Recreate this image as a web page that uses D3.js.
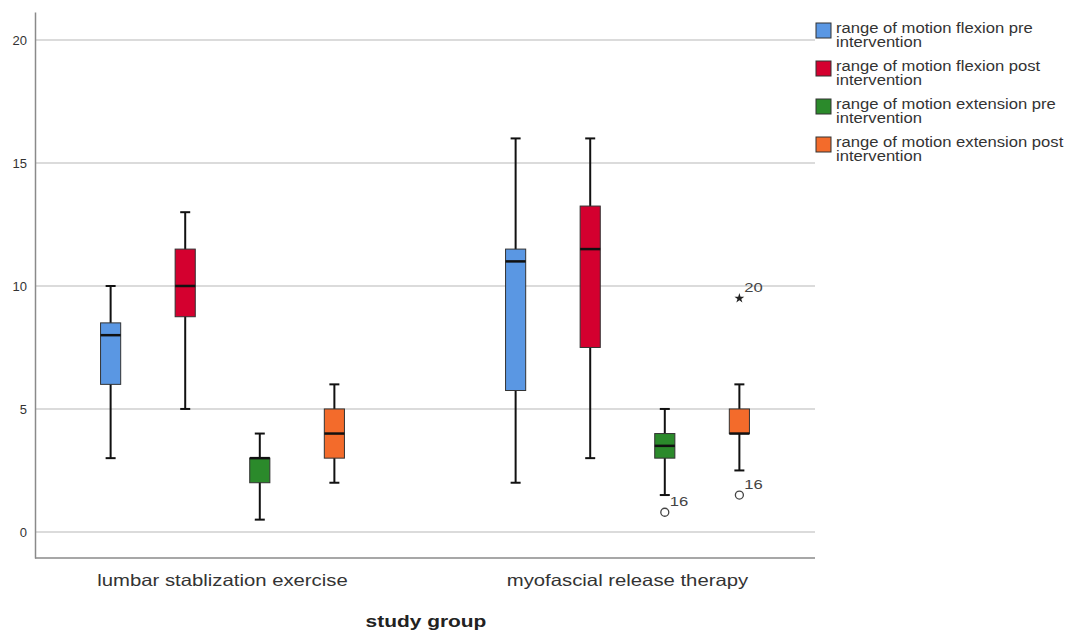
<!DOCTYPE html>
<html>
<head>
<meta charset="utf-8">
<script src="https://cdn.jsdelivr.net/npm/d3@7"></script>
<style>
  body { margin: 0; background: #fff; }
  text { font-family: "Liberation Sans", Arial, sans-serif; }
</style>
</head>
<body>
<div id="chart"></div>
<script>
// chart data
var groups = ["lumbar stablization exercise", "myofascial release therapy"];
var seriesNames = [
  "range of motion flexion pre intervention",
  "range of motion flexion post intervention",
  "range of motion extension pre intervention",
  "range of motion extension post intervention"
];
var seriesColors = ["#5a97e3", "#d4002f", "#2b8a2b", "#f36b2b"];
// [whisker low, Q1, median, Q3, whisker high] per group, per series
var flexionPre = [[3, 6, 8, 8.5, 10], [2, 5.75, 11, 11.5, 16]];
var flexionPost = [[5, 8.75, 10, 11.5, 13], [3, 7.5, 11.5, 13.25, 16]];
var extensionPre = [[0.5, 2, 3, 3, 4], [1.5, 3, 3.5, 4, 5]];
var extensionPost = [[2, 3, 4, 5, 6], [2.5, 4, 4, 5, 6]];
// outliers: group, series index, value, case label, type
var outliers = [
  { group: 1, series: 2, value: 0.8, label: "16", type: "circle" },
  { group: 1, series: 3, value: 1.5, label: "16", type: "circle" },
  { group: 1, series: 3, value: 9.5, label: "20", type: "star" }
];
var yTicks = [0, 5, 10, 15, 20];

var svgWidth = 1070;
var svgHeight = 631;
var margin = { top: 12, left: 35, right: 255, bottom: 73 };
var plotW = svgWidth - margin.left - margin.right; // 780
var plotH = svgHeight - margin.top - margin.bottom; // 546
var stretch = 1.23; // the original text is drawn a bit wide

var svg = d3.select("#chart").append("svg")
  .attr("width", svgWidth)
  .attr("height", svgHeight);

var g = svg.append("g")
  .attr("transform", `translate(${margin.left}, ${margin.top})`);

var y = d3.scaleLinear().domain([-1.06, 21.14]).range([plotH, 0]);

var x0 = d3.scaleBand().domain(groups).range([-15, 795]); // group bands
var x1 = d3.scaleBand().domain(d3.range(4)).range([0, x0.bandwidth()])
  .paddingInner(0.73).paddingOuter(1.08);

var allSeries = [flexionPre, flexionPost, extensionPre, extensionPost];

// gridlines
g.selectAll(".grid").data(yTicks).enter().append("line")
  .attr("x1", 0).attr("x2", plotW)
  .attr("y1", d => y(d)).attr("y2", d => y(d))
  .attr("stroke", "#cfcfcf").attr("stroke-width", 1.5);

// y axis
var yAxis = g.append("g").call(d3.axisLeft(y).tickValues(yTicks).tickSize(0).tickPadding(8));
yAxis.select(".domain").attr("stroke", "#8a8a8a").attr("stroke-width", 1.5);
yAxis.selectAll("text").attr("font-size", 13).attr("fill", "#333")
  .style("font-family", "Liberation Sans, Arial, sans-serif");

// x axis (bottom line + category labels)
g.append("line").attr("x1", 0).attr("x2", plotW).attr("y1", plotH).attr("y2", plotH)
  .attr("stroke", "#8a8a8a").attr("stroke-width", 1.5);
g.selectAll(".cat").data(groups).enter().append("text")
  .attr("class", "stretch")
  .attr("x", d => x0(d) + x0.bandwidth() / 2)
  .attr("y", plotH + 28)
  .attr("text-anchor", "middle")
  .attr("font-size", 16.5).attr("fill", "#333")
  .text(d => d);

svg.append("text")
  .attr("class", "stretch")
  .attr("x", 426).attr("y", 627)
  .attr("text-anchor", "middle")
  .attr("font-size", 17).attr("font-weight", "bold").attr("fill", "#222")
  .text("study group");

// boxes
var bw = x1.bandwidth();
groups.forEach(function(grp, gi) {
  allSeries.forEach(function(s, si) {
    var st = s[gi];
    var cx = x0(grp) + x1(si) + bw / 2;
    var box = g.append("g");
    box.append("line").attr("x1", cx).attr("x2", cx)
      .attr("y1", y(st[0])).attr("y2", y(st[4]))
      .attr("stroke", "#111").attr("stroke-width", 2);
    [st[0], st[4]].forEach(function(v) {
      box.append("line").attr("x1", cx - 5).attr("x2", cx + 5)
        .attr("y1", y(v)).attr("y2", y(v))
        .attr("stroke", "#111").attr("stroke-width", 2);
    });
    box.append("rect")
      .attr("x", cx - bw / 2).attr("width", bw)
      .attr("y", y(st[3])).attr("height", Math.max(1, y(st[1]) - y(st[3])))
      .attr("fill", seriesColors[si]).attr("stroke", "#333").attr("stroke-width", 1);
    box.append("line").attr("x1", cx - bw / 2).attr("x2", cx + bw / 2)
      .attr("y1", y(st[2])).attr("y2", y(st[2]))
      .attr("stroke", "#111").attr("stroke-width", 2.5);
  });
});

// outliers
outliers.forEach(function(o) {
  var cx = x0(groups[o.group]) + x1(o.series) + bw / 2;
  var cy = y(o.value);
  if (o.type === "circle") {
    g.append("circle").attr("cx", cx).attr("cy", cy).attr("r", 4)
      .attr("fill", "none").attr("stroke", "#444").attr("stroke-width", 1.3);
  } else {
    g.append("path").attr("d", d3.symbol(d3.symbolStar, 30)())
      .attr("transform", `translate(${cx}, ${cy})`).attr("fill", "#222");
  }
  g.append("text").attr("class", "stretch")
    .attr("x", cx + 5).attr("y", cy - 6)
    .attr("font-size", 13.5).attr("fill", "#444").text(o.label);
});

// legend
var legend = svg.append("g").attr("transform", "translate(816, 23)");
seriesNames.forEach(function(name, i) {
  var item = legend.append("g").attr("transform", `translate(0, ${i * 38})`);
  item.append("rect").attr("x", 0).attr("y", 0).attr("width", 15).attr("height", 15)
    .attr("fill", seriesColors[i]).attr("stroke", "#333").attr("stroke-width", 1);
  var words = name.replace(" intervention", "");
  item.append("text").attr("class", "stretch").attr("x", 20).attr("y", 10)
    .attr("font-size", 14).attr("fill", "#333").text(words);
  item.append("text").attr("class", "stretch").attr("x", 20).attr("y", 24)
    .attr("font-size", 14).attr("fill", "#333").text("intervention");
});

// widen text to match the original's wide glyphs
svg.selectAll("text.stretch").each(function() {
  var len = this.getComputedTextLength();
  d3.select(this).attr("textLength", len * stretch * (this.getAttribute("font-size") == 14 ? 0.965 : 1))
    .attr("lengthAdjust", "spacingAndGlyphs");
});
</script>
</body>
</html>
